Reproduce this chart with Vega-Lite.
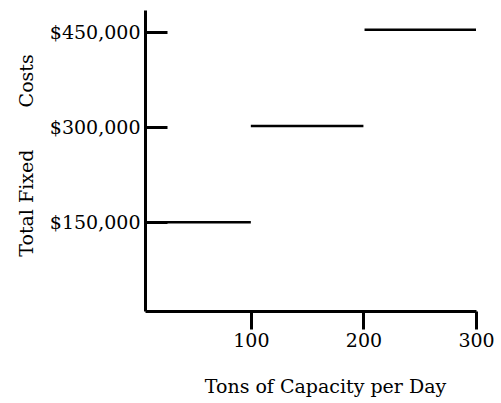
{
  "$schema": "https://vega.github.io/schema/vega-lite/v6.json",
  "autosize": "none",
  "width": 331,
  "height": 301,
  "padding": {"left": 145, "top": 10, "right": 25, "bottom": 92},
  "background": "white",
  "config": {
    "view": {"stroke": null},
    "axis": {
      "grid": false,
      "domainColor": "black",
      "domainWidth": 3,
      "tickColor": "black",
      "tickWidth": 3,
      "labelFont": "DejaVu Serif",
      "labelFontSize": 19,
      "labelColor": "black",
      "titleFont": "DejaVu Serif",
      "titleFontWeight": "normal",
      "titleColor": "black"
    }
  },
  "data": {
    "values": [
      {"start": 6, "end": 100, "cost": 150000},
      {"start": 100, "end": 200, "cost": 302000},
      {"start": 201, "end": 300, "cost": 454000}
    ]
  },
  "mark": {"type": "rule", "color": "black", "strokeWidth": 2.5},
  "encoding": {
    "x": {
      "field": "start",
      "type": "quantitative",
      "scale": {"domain": [6, 300], "nice": false, "zero": false},
      "axis": {
        "values": [100, 200, 300],
        "tickSize": 18,
        "labelPadding": 2,
        "labelFlush": false,
        "title": "Tons of Capacity per Day",
        "titleFontSize": 19,
        "titleX": 180,
        "titleY": 81,
        "titleBaseline": "alphabetic"
      }
    },
    "x2": {"field": "end"},
    "y": {
      "field": "cost",
      "type": "quantitative",
      "scale": {"domain": [10000, 485000], "nice": false, "zero": false},
      "axis": {
        "values": [150000, 300000, 450000],
        "format": "$,.0f",
        "tickSize": -22,
        "labelPadding": 27,
        "title": "Total Fixed\u00a0\u00a0\u00a0\u00a0\u00a0\u00a0\u00a0Costs",
        "titleFontSize": 19,
        "titleX": -113,
        "titleY": 145,
        "titleAngle": -90,
        "titleAlign": "center",
        "titleBaseline": "alphabetic"
      }
    }
  }
}
